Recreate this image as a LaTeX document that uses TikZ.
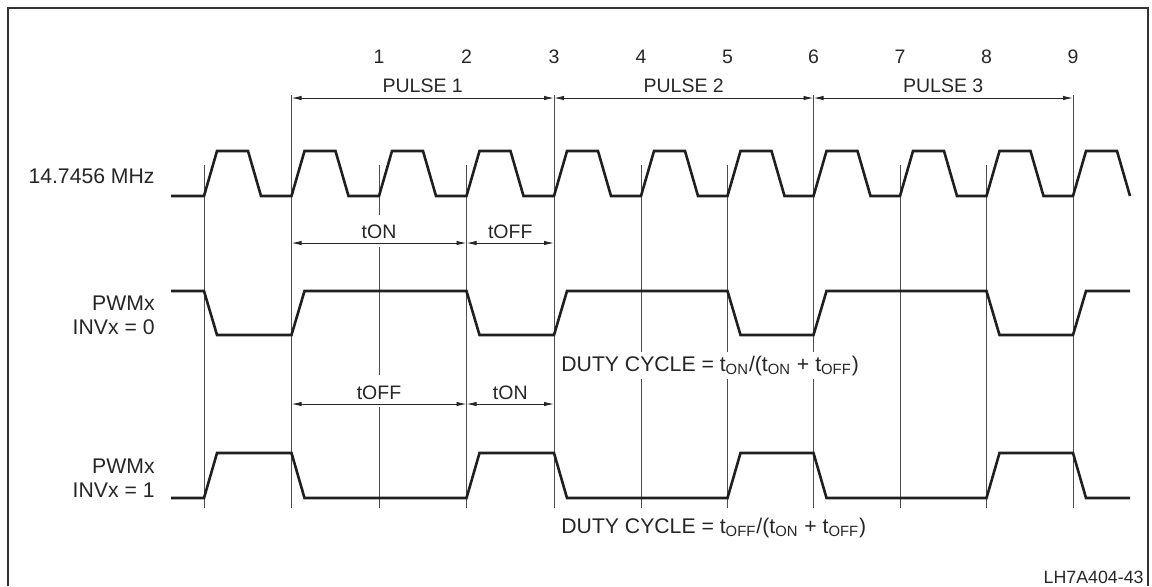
\documentclass[tikz,border=0pt]{standalone}
\usepackage{fontspec}
\setmainfont{Liberation Sans}
\usetikzlibrary{arrows.meta,calc}
\begin{document}
\begin{tikzpicture}[x=0.5pt,y=-0.5pt,
  wave/.style={line width=1.3pt, line join=miter, black!88},
  gridline/.style={line width=0.45pt, black!70},
  dimline/.style={line width=0.45pt, black!85, {Latex[length=5pt,width=2.2pt]}-{Latex[length=5pt,width=2.2pt]}},
  lbl/.style={font=\fontsize{9.75}{11}\selectfont, inner sep=0pt, text=black!85},
  biglbl/.style={font=\fontsize{10.6}{12}\selectfont, inner sep=0pt, text=black!85},
  small/.style={font=\fontsize{8.9}{10}\selectfont, inner sep=0pt, text=black!85}]
\useasboundingbox (0,0) rectangle (1152,586);
\draw[line width=0.8pt, black!80] (8,586) -- (8,8) -- (1148,8) -- (1148,586);
% edge positions
\foreach \i/\x in {0/204,1/291.5,2/379,3/466.5,4/554,5/641,6/727.5,7/813.5,8/900,9/986.5,10/1073}
  {\coordinate (L\i) at (\x,0);}
% vertical lines
\foreach \i in {1,4,7,10} {\draw[gridline] ($(L\i)+(0,95)$) -- ($(L\i)+(0,508)$);}
\foreach \i in {0,3,5,6,8,9} {\draw[gridline] ($(L\i)+(0,165)$) -- ($(L\i)+(0,508)$);}
\draw[gridline] ($(L2)+(0,165)$) -- ($(L2)+(0,215)$);
\draw[gridline] ($(L2)+(0,247)$) -- ($(L2)+(0,375)$);
\draw[gridline] ($(L2)+(0,407)$) -- ($(L2)+(0,508)$);
% clock
\draw[wave] (171,196) foreach \i in {0,...,10} { -- ($(L\i)+(0,196)$) -- ($(L\i)+(13,151)$) -- ($(L\i)+(44,151)$) -- ($(L\i)+(57,196)$) };
% PWM INV=0
\def\H{291}\def\Lo{335}
\draw[wave] (171,\H) -- ($(L0)+(0,\H)$) -- ($(L0)+(13,\Lo)$)
  -- ($(L1)+(0,\Lo)$) -- ($(L1)+(13,\H)$) -- ($(L3)+(0,\H)$) -- ($(L3)+(13,\Lo)$)
  -- ($(L4)+(0,\Lo)$) -- ($(L4)+(13,\H)$) -- ($(L6)+(0,\H)$) -- ($(L6)+(13,\Lo)$)
  -- ($(L7)+(0,\Lo)$) -- ($(L7)+(13,\H)$) -- ($(L9)+(0,\H)$) -- ($(L9)+(13,\Lo)$)
  -- ($(L10)+(0,\Lo)$) -- ($(L10)+(13,\H)$) -- (1130,\H);
% PWM INV=1
\def\Hb{453}\def\Lb{498}
\draw[wave] (171,\Lb) -- ($(L0)+(0,\Lb)$) -- ($(L0)+(13,\Hb)$)
  -- ($(L1)+(0,\Hb)$) -- ($(L1)+(13,\Lb)$) -- ($(L3)+(0,\Lb)$) -- ($(L3)+(13,\Hb)$)
  -- ($(L4)+(0,\Hb)$) -- ($(L4)+(13,\Lb)$) -- ($(L6)+(0,\Lb)$) -- ($(L6)+(13,\Hb)$)
  -- ($(L7)+(0,\Hb)$) -- ($(L7)+(13,\Lb)$) -- ($(L9)+(0,\Lb)$) -- ($(L9)+(13,\Hb)$)
  -- ($(L10)+(0,\Hb)$) -- ($(L10)+(13,\Lb)$) -- (1130,\Lb);
% numbers
\foreach \n [evaluate=\n as \m using int(\n+1)] in {1,...,9}
  {\node[lbl, anchor=base] (n\n) at ($(L\m)+(0,63)$) {\n};}
% pulse arrows
\draw[dimline] ($(L1)+(0,98)$) -- ($(L4)+(0,98)$);
\draw[dimline] ($(L4)+(0,98)$) -- ($(L7)+(0,98)$);
\draw[dimline] ($(L7)+(0,98)$) -- ($(L10)+(0,98)$);
\node[lbl, anchor=base] (pulse1) at ($(L1)!0.5!(L4)+(0,92)$) {PULSE 1};
\node[lbl, anchor=base] (pulse2) at ($(L4)!0.5!(L7)+(0,92)$) {PULSE 2};
\node[lbl, anchor=base] (pulse3) at ($(L7)!0.5!(L10)+(0,92)$) {PULSE 3};
% ton/toff arrows upper
\draw[dimline] ($(L1)+(0,243)$) -- ($(L3)+(0,243)$);
\draw[dimline] ($(L3)+(0,243)$) -- ($(L4)+(0,243)$);
\node[lbl, anchor=base] (ton1) at ($(L2)+(0,238)$) {tON};
\node[lbl, anchor=base] (toff1) at ($(L3)!0.5!(L4)+(0,238)$) {tOFF};
% lower
\draw[dimline] ($(L1)+(0,404)$) -- ($(L3)+(0,404)$);
\draw[dimline] ($(L3)+(0,404)$) -- ($(L4)+(0,404)$);
\node[lbl, anchor=base] (toff2) at ($(L2)+(0,399)$) {tOFF};
\node[lbl, anchor=base] (ton2) at ($(L3)!0.5!(L4)+(0,399)$) {tON};
% signal labels
\node[biglbl, anchor=east] (clk) at (155,176) {14.7456 MHz};
\node[biglbl, anchor=east] (pw1) at (155,303) {PWMx};
\node[biglbl, anchor=east] (inv0) at (155,327) {INVx = 0};
\node[biglbl, anchor=east] (pw2) at (155,466) {PWMx};
\node[biglbl, anchor=east] (inv1) at (155,490) {INVx = 1};
% duty cycle
\node[biglbl, anchor=base west, fill=white, inner ysep=2pt] (dc1) at (561,371)
  {DUTY CYCLE = t\textsubscript{ON}/(t\textsubscript{ON} + t\textsubscript{OFF})};
\node[biglbl, anchor=base west] (dc2) at (561,533)
  {DUTY CYCLE = t\textsubscript{OFF}/(t\textsubscript{ON} + t\textsubscript{OFF})};
\node[small, anchor=base east] (fig) at (1144,583) {LH7A404-43};
\end{tikzpicture}
\end{document}
